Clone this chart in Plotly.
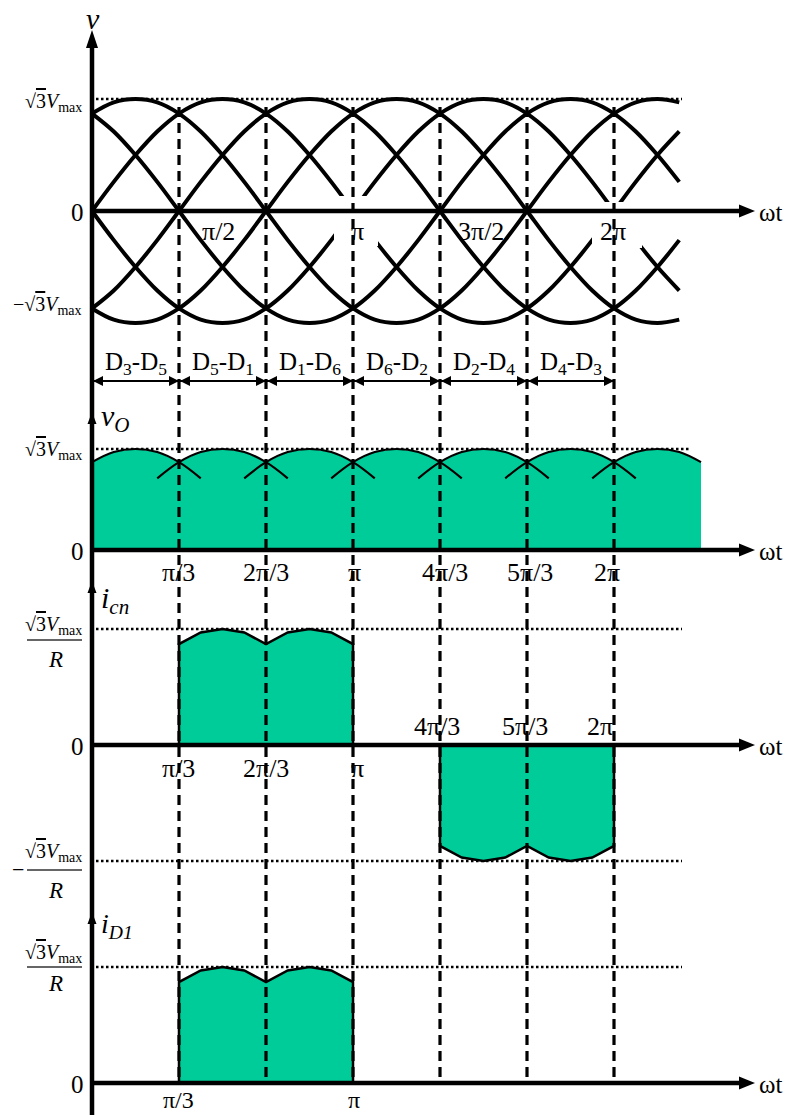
import plotly.graph_objects as go

# ---------------------------------------------------------------------------
# Data
# ---------------------------------------------------------------------------
STEP_DEG = 15
# one period of a line-to-line voltage, in units of sqrt(3)*Vmax, every 15 deg
LINE_WAVE = [0.00, 0.26, 0.50, 0.71, 0.87, 0.97, 1.00, 0.97, 0.87, 0.71, 0.50, 0.26,
             0.00, -0.26, -0.50, -0.71, -0.87, -0.97, -1.00, -0.97, -0.87, -0.71, -0.50, -0.26]
# the six line voltages are 60 deg apart (offsets in table steps)
PHASE_STEPS = [0, 4, 8, 12, 16, 20]
LINE_END_DEG = 405          # extent of the line-voltage traces
OUT_END_DEG = 420           # extent of the rectified output

# conduction intervals (deg)
ICN_POS_DEG = (60, 180)
ICN_NEG_DEG = (240, 360)
ID1_DEG = (60, 180)

BOUNDARY_DEG = [60, 120, 180, 240, 300, 360]
DIODE_PAIRS = ["D<sub>3</sub>-D<sub>5</sub>", "D<sub>5</sub>-D<sub>1</sub>",
               "D<sub>1</sub>-D<sub>6</sub>", "D<sub>6</sub>-D<sub>2</sub>",
               "D<sub>2</sub>-D<sub>4</sub>", "D<sub>4</sub>-D<sub>3</sub>"]

TOP_TICK_LABELS = ["π/2", "π", "3π/2", "2π"]
VO_TICK_LABELS = ["π/3", "2π/3", "π", "4π/3", "5π/3", "2π"]
ICN_LOW_TICK_LABELS = ["π/3", "2π/3", "π"]
ICN_HIGH_TICK_LABELS = ["4π/3", "5π/3", "2π"]
ID1_TICK_LABELS = ["π/3", "π"]

# ---------------------------------------------------------------------------
# Page geometry
# ---------------------------------------------------------------------------
W, H = 788, 1115
FONT = "'Liberation Serif', 'Times New Roman', 'DejaVu Serif', serif"
GREEN = "#00CC99"
X0_PX = 92                 # position of wt = 0
PX_PER_DEG = 1.45
ZERO_PX = [211, 550, 745, 1083]     # zero line of each panel
UNIT_PX = [112, 101, 116, 116]      # pixels for one unit of each panel
AXIS_END_PX = 755


def px(xp):
    return xp / W


def py(yp):
    return 1 - yp / H


def deg_px(d):
    return X0_PX + d * PX_PER_DEG


n_line = LINE_END_DEG // STEP_DEG + 1
n_out = OUT_END_DEG // STEP_DEG + 1
N = len(LINE_WAVE)


def line_voltage(p, n):
    return [LINE_WAVE[(i + p) % N] for i in range(n)]


envelope = [max(LINE_WAVE[(i + p) % N] for p in PHASE_STEPS) for i in range(n_out)]

fig = go.Figure()

# --- panel 1: six line-to-line voltages
for p in PHASE_STEPS:
    fig.add_trace(go.Scatter(
        x=[i * STEP_DEG for i in range(n_line)], y=line_voltage(p, n_line),
        mode="lines", line=dict(color="black", width=4, shape="spline"),
        yaxis="y", hoverinfo="skip"))

# --- panel 2: rectified output voltage
fig.add_trace(go.Scatter(
    x=[i * STEP_DEG for i in range(n_out)], y=envelope, mode="lines",
    fill="tozeroy", fillcolor=GREEN, line=dict(width=0, color=GREEN),
    yaxis="y2", hoverinfo="skip"))

ox, oy = [], []
for j in range(OUT_END_DEG // 60):
    mid = 4 * j + 2
    p_on = max(PHASE_STEPS, key=lambda p: LINE_WAVE[(mid + p) % N])
    for i in range(max(0, 4 * j - 1), min(n_out - 1, 4 * j + 5) + 1):
        ox.append(i * STEP_DEG)
        oy.append(LINE_WAVE[(i + p_on) % N])
    ox.append(None)
    oy.append(None)
fig.add_trace(go.Scatter(x=ox, y=oy, mode="lines",
                         line=dict(color="black", width=2.2, shape="spline"),
                         yaxis="y2", hoverinfo="skip", connectgaps=False))


def block(interval, sign, axis):
    a, b = interval[0] // STEP_DEG, interval[1] // STEP_DEG
    xs = [interval[0]] + [i * STEP_DEG for i in range(a, b + 1)] + [interval[1]]
    ys = [0] + [sign * envelope[i] for i in range(a, b + 1)] + [0]
    fig.add_trace(go.Scatter(x=xs, y=ys, mode="lines", fill="toself",
                             fillcolor=GREEN, line=dict(color="black", width=2.5),
                             yaxis=axis, hoverinfo="skip"))


# --- panel 3: i_cn, panel 4: i_D1
block(ICN_POS_DEG, 1, "y3")
block(ICN_NEG_DEG, -1, "y3")
block(ID1_DEG, 1, "y4")

# ---------------------------------------------------------------------------
# Shapes
# ---------------------------------------------------------------------------
shapes = []

# dotted reference levels
dotted = [("y", 1, 682), ("y2", 1, 690), ("y3", 1, 682), ("y3", -1, 682), ("y4", 1, 682)]
for ax, lev, end in dotted:
    shapes.append(dict(type="line", xref="paper", yref=ax, x0=px(X0_PX + 4), x1=px(end),
                       y0=lev, y1=lev, layer="below",
                       line=dict(color="black", width=2.5, dash="2.5px,2.5px")))

# white breaks behind the pi and 2pi labels
for x0, x1, y0, y1 in [(334, 378, 196, 246), (592, 642, 202, 248)]:
    shapes.append(dict(type="rect", xref="paper", yref="paper",
                       x0=px(x0), x1=px(x1), y0=py(y0), y1=py(y1),
                       fillcolor="white", line=dict(width=0), layer="above"))

# dashed boundaries
for d in BOUNDARY_DEG:
    shapes.append(dict(type="line", xref="x", yref="paper", x0=d, x1=d,
                       y0=py(107), y1=py(ZERO_PX[3]), layer="above",
                       line=dict(color="black", width=3.2, dash="10px,6px")))


def tri(pts):
    path = "M " + " L ".join(f"{px(a):.5f},{py(b):.5f}" for a, b in pts) + " Z"
    return dict(type="path", xref="paper", yref="paper", path=path,
                fillcolor="black", line=dict(width=0), layer="above")


# axes
shapes.append(dict(type="line", xref="paper", yref="paper", x0=px(X0_PX), x1=px(X0_PX),
                   y0=py(44), y1=py(H + 2), layer="above",
                   line=dict(color="black", width=4.5)))
shapes.append(tri([(X0_PX, 30), (X0_PX - 6, 48), (X0_PX + 6, 48)]))
for tip in [412, 581, 912]:
    shapes.append(tri([(X0_PX, tip), (X0_PX - 4.5, tip + 12), (X0_PX + 4.5, tip + 12)]))
for z in ZERO_PX:
    shapes.append(dict(type="line", xref="paper", yref="paper", x0=px(X0_PX), x1=px(AXIS_END_PX - 10),
                       y0=py(z), y1=py(z), layer="above",
                       line=dict(color="black", width=4.5)))
    shapes.append(tri([(AXIS_END_PX, z), (AXIS_END_PX - 16, z - 6.5), (AXIS_END_PX - 16, z + 6.5)]))

# diode conduction arrows
ARROW_Y = 381
edges = [0] + BOUNDARY_DEG
for a, b in zip(edges[:-1], edges[1:]):
    xa, xb = deg_px(a) + 1, deg_px(b)
    shapes.append(dict(type="line", xref="paper", yref="paper", x0=px(xa), x1=px(xb),
                       y0=py(ARROW_Y), y1=py(ARROW_Y), layer="above",
                       line=dict(color="black", width=2)))
    shapes.append(tri([(xa, ARROW_Y), (xa + 10, ARROW_Y - 5), (xa + 10, ARROW_Y + 5)]))
    shapes.append(tri([(xb, ARROW_Y), (xb - 10, ARROW_Y - 5), (xb - 10, ARROW_Y + 5)]))

# fraction bars of the current levels
for yb in [640, 870, 967]:
    shapes.append(dict(type="line", xref="paper", yref="paper", x0=px(27), x1=px(82),
                       y0=py(yb), y1=py(yb), layer="above",
                       line=dict(color="#333333", width=1.3)))

# ---------------------------------------------------------------------------
# Text
# ---------------------------------------------------------------------------
annotations = []


def text(t, xp, yp, size, xanchor="center", yanchor="middle"):
    annotations.append(dict(text=t, x=px(xp), y=py(yp), xref="paper", yref="paper",
                            showarrow=False, xanchor=xanchor, yanchor=yanchor,
                            borderpad=0,
                            font=dict(family=FONT, size=size, color="black")))


ROOT = '√<span style="text-decoration:overline">3</span><i>V</i><sub>max</sub>'

text("<i>v</i>", 93, 19, 30)
text("<i>v</i><sub><i>O</i></sub>", 100, 418, 30, "left")
text("<i>i</i><sub><i>cn</i></sub>", 100, 600, 30, "left")
text("<i>i</i><sub><i>D1</i></sub>", 100, 925, 28, "left")

text(ROOT, 83, 103, 20, "right")
text("−" + ROOT, 83, 305, 20, "right")
text(ROOT, 83, 451, 20, "right")
text(ROOT, 83, 625, 20, "right")
text("<i>R</i>", 55, 659, 23)
text(ROOT, 83, 852, 20, "right")
text("−", 18, 869, 22)
text("<i>R</i>", 55, 890, 23)
text(ROOT, 83, 953, 20, "right")
text("<i>R</i>", 55, 983, 23)

for z in ZERO_PX:
    text("0", 77, z + 1, 25)
    text("ωt", 770, z + 1, 25)

TICK_SIZE = 26
for lab, xp in zip(TOP_TICK_LABELS, [218, 357, 481, 613]):
    text(lab, xp, 231, TICK_SIZE)
for lab, xp in zip(VO_TICK_LABELS, [178, 266, 354, 445, 530, 607]):
    text(lab, xp, 572, TICK_SIZE)
for lab, xp in zip(ICN_LOW_TICK_LABELS, [178, 266, 357]):
    text(lab, xp, 768, TICK_SIZE)
for lab, xp in zip(ICN_HIGH_TICK_LABELS, [437, 525, 600]):
    text(lab, xp, 726, TICK_SIZE)
for lab, xp in zip(ID1_TICK_LABELS, [178, 354]):
    text(lab, xp, H - 1, 24, yanchor="bottom")

for lab, a, b in zip(DIODE_PAIRS, edges[:-1], edges[1:]):
    text(lab, (deg_px(a) + deg_px(b)) / 2, 364, 25)

# ---------------------------------------------------------------------------
# Layout: one shared wt axis (deg), one y axis per panel
# ---------------------------------------------------------------------------
x_range = [-X0_PX / PX_PER_DEG, (W - X0_PX) / PX_PER_DEG]


def yrange(k):
    return [(ZERO_PX[k] - H) / UNIT_PX[k], ZERO_PX[k] / UNIT_PX[k]]


hidden = dict(visible=False, showgrid=False, zeroline=False, fixedrange=True)
fig.update_layout(
    width=W, height=H, autosize=False,
    margin=dict(l=0, r=0, t=0, b=0),
    paper_bgcolor="white", plot_bgcolor="white", showlegend=False,
    font=dict(family=FONT),
    xaxis=dict(range=x_range, domain=[0, 1], **hidden),
    yaxis=dict(range=yrange(0), domain=[0, 1], **hidden),
    yaxis2=dict(range=yrange(1), overlaying="y", **hidden),
    yaxis3=dict(range=yrange(2), overlaying="y", **hidden),
    yaxis4=dict(range=yrange(3), overlaying="y", **hidden),
    shapes=shapes, annotations=annotations,
)

fig.write_html("out.html", config={"displayModeBar": False})
